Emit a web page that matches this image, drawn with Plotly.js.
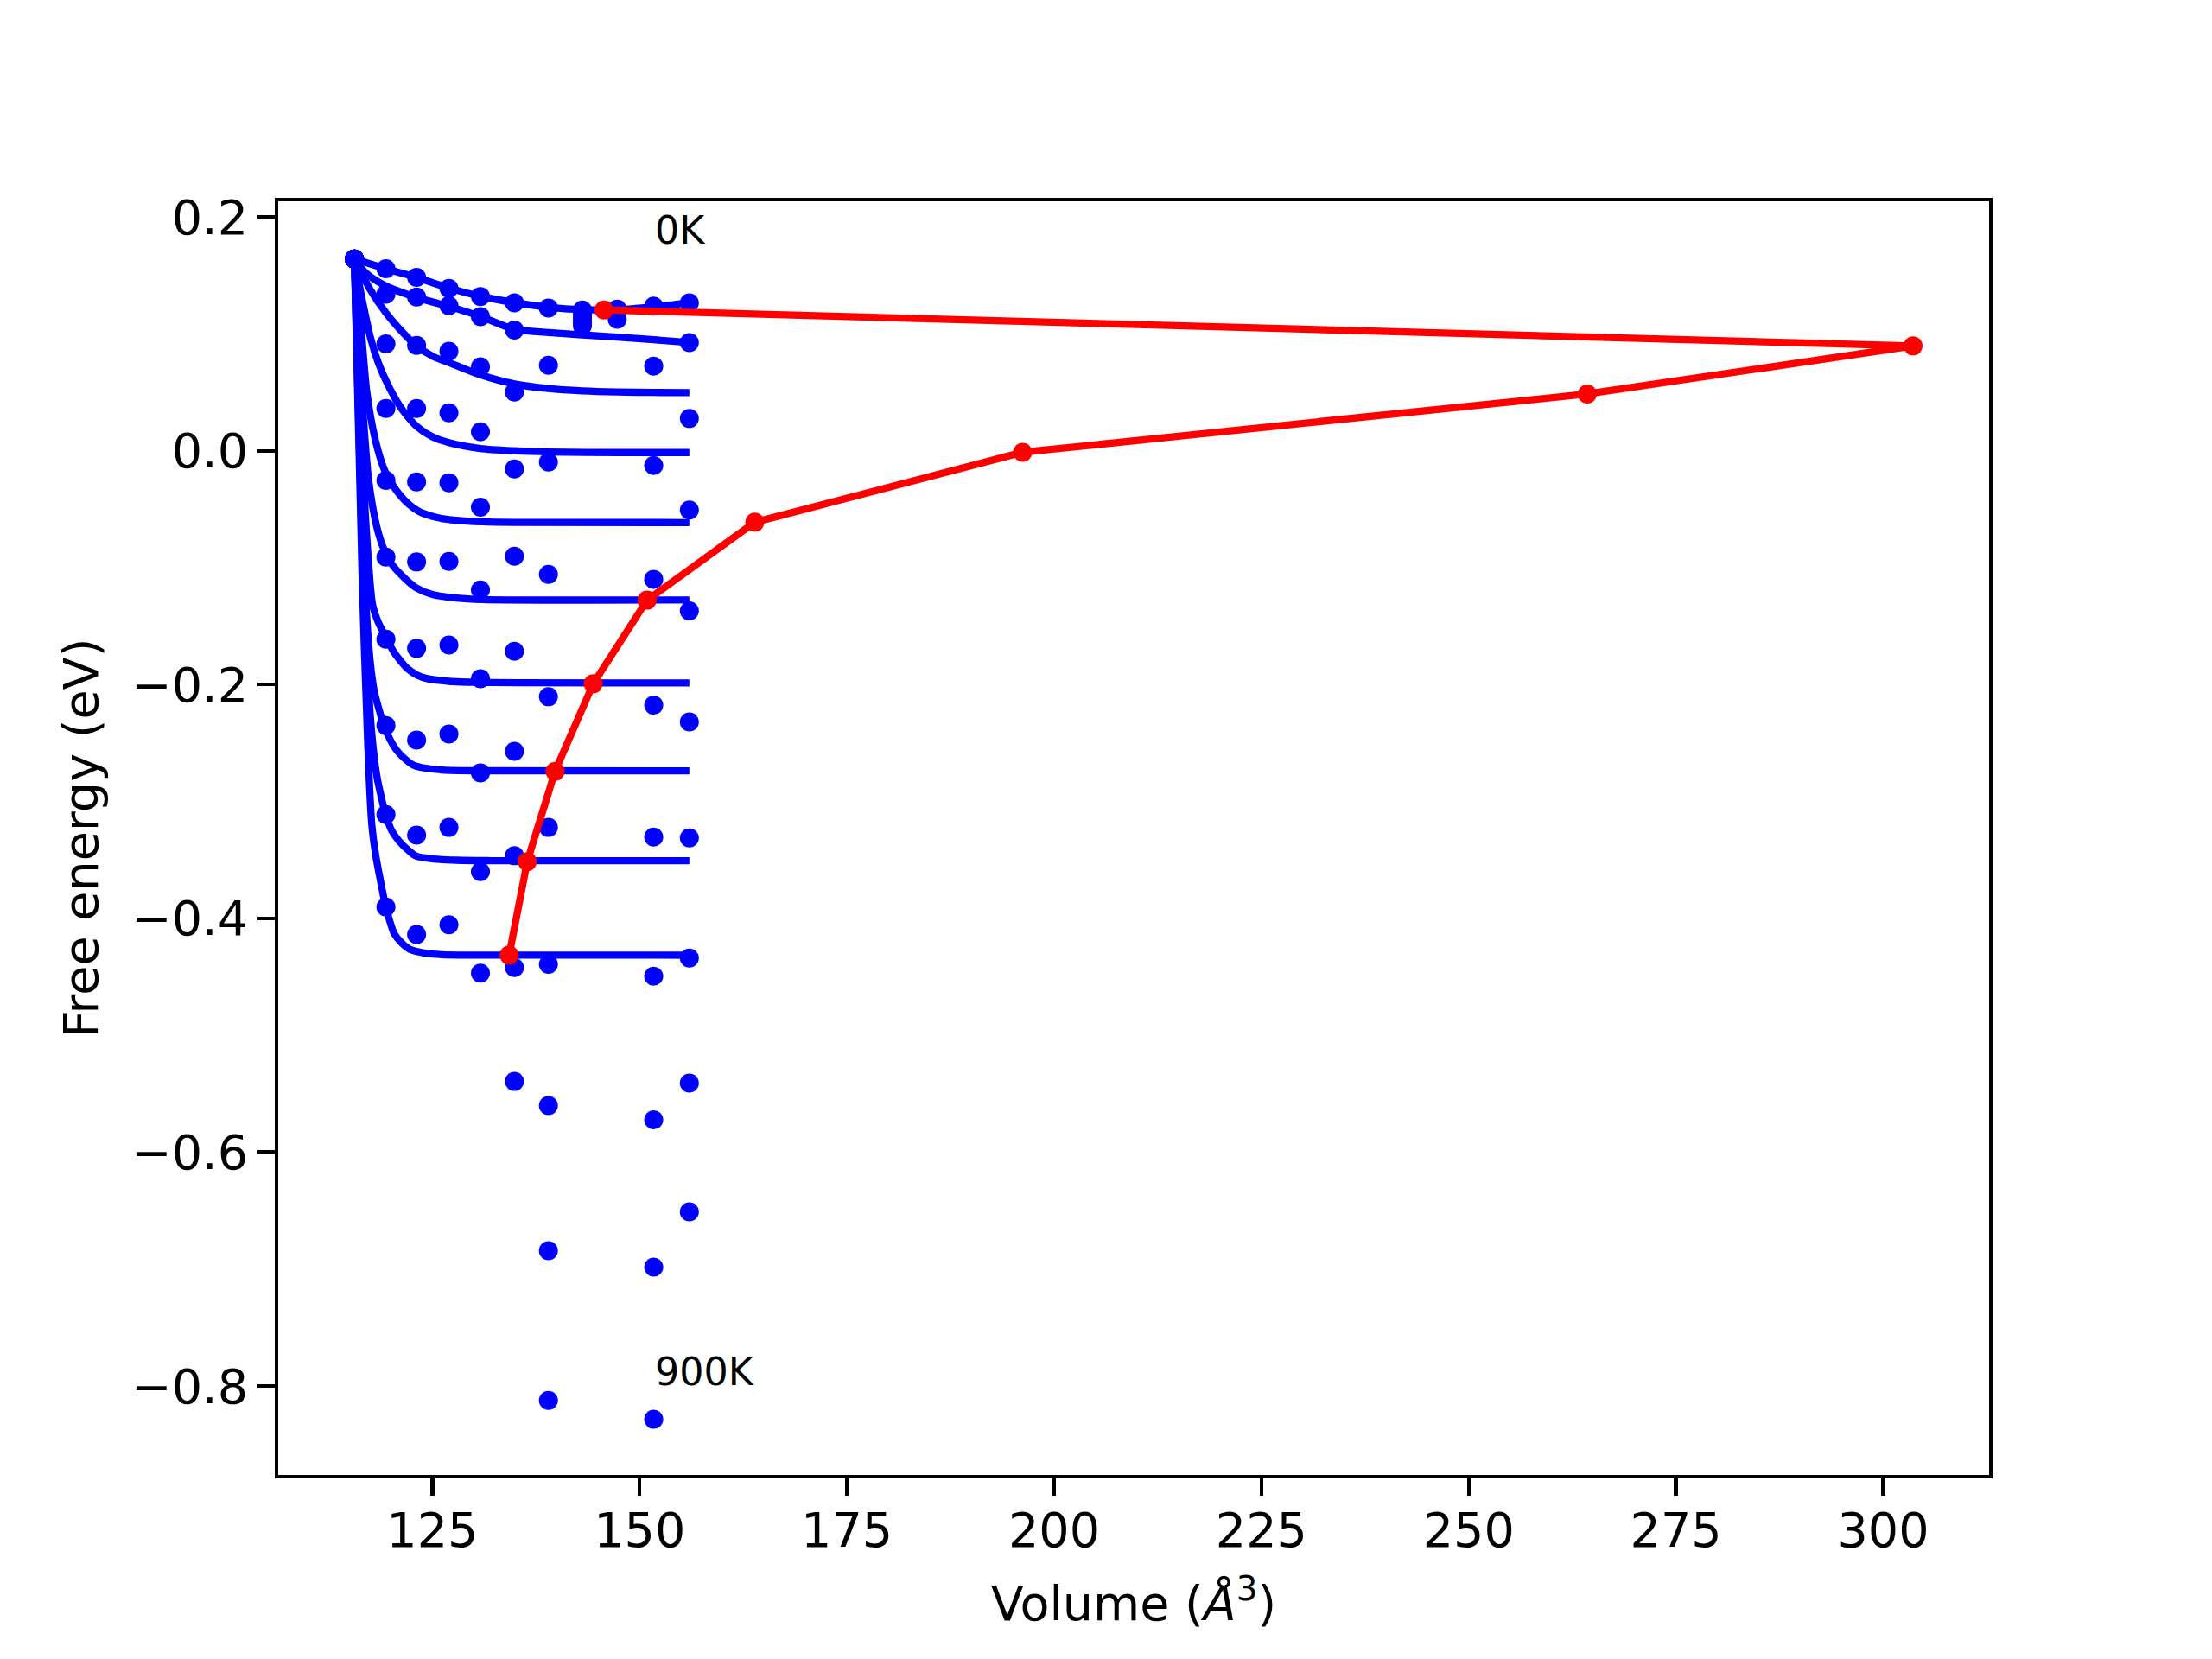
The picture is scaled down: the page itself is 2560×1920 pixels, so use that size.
<!DOCTYPE html>
<html>
<head>
<meta charset="utf-8">
<script src="https://cdn.plot.ly/plotly-3.0.1.min.js"></script>
<style>html,body{margin:0;padding:0;background:#fff;}</style>
</head>
<body>
<div id="chart" style="width:2560px;height:1920px;"></div>
<script>
// ---- data ----
const volumes = [115.6, 119.4, 123.1, 127.0, 130.8, 134.9, 139.0, 143.1, 147.3, 151.7, 156.0];
const temperatures = ['0K','100K','200K','300K','400K','500K','600K','700K','800K','900K'];
const F_0K   = [0.164, 0.1557, 0.1483, 0.1390, 0.1320, 0.1266, 0.1222, 0.1205, 0.1212, 0.1237, 0.1266];
const F_100K = [0.164, 0.1340, 0.1316, 0.1242, 0.1148, 0.1032, 0.0732, null, null, 0.0724, 0.0926];
const F_200K = [0.164, 0.0914, 0.0902, 0.0852, 0.0719, 0.0503, -0.0096, null, null, -0.0126, 0.0276];
const F_300K = [0.164, 0.0362, 0.0362, 0.0325, 0.0163, -0.0155, -0.1057, null, null, -0.1099, -0.0507];
const F_400K = [0.164, -0.0254, -0.0266, -0.0273, -0.0483, -0.0902, -0.2104, null, null, -0.2176, -0.1370];
const F_500K = [0.164, -0.0909, -0.0951, -0.0946, -0.1190, -0.1715, -0.3222, null, null, -0.3304, -0.2320];
const F_600K = [0.164, -0.1611, -0.1690, -0.1661, -0.1949, -0.2570, -0.4393, null, null, -0.4494, -0.3311];
const F_700K = [0.164, -0.2350, -0.2474, -0.2422, -0.2755, -0.3464, -0.5601, null, null, -0.5723, -0.4339];
const F_800K = [0.164, -0.3112, -0.3287, -0.3222, -0.3600, -0.4420, -0.6843, null, null, -0.6984, -0.5409];
const F_900K = [0.164, -0.3903, -0.4137, -0.4055, -0.4469, -0.5395, -0.8124, null, null, -0.8285, -0.6511];
// extra stacked points near the 0K minimum
const extraV = [143.1, 143.1, 143.1, 143.1, 147.3];
const extraF = [0.117, 0.1135, 0.110, 0.107, 0.1125];

// fitted curves
const fitV_0K   = [115.6, 119.4, 123.1, 127.0, 130.8, 134.9, 139.0, 143.1, 147.3, 151.7, 156.0];
const fitF_0K   = [0.164, 0.1557, 0.1483, 0.1392, 0.1322, 0.1268, 0.1228, 0.1208, 0.1207, 0.1232, 0.1266];
const fitV_100K = [115.6, 117.0, 119.4, 123.1, 127.0, 130.8, 134.9, 139.0, 143.1, 147.3, 151.7, 156.0];
const fitF_100K = [0.164, 0.152, 0.141, 0.1312, 0.1235, 0.1150, 0.1040, 0.1012, 0.0992, 0.0972, 0.0950, 0.0926];
const fitV_200K = [115.6, 117.5, 119.4, 121.2, 123.1, 125.0, 127.0, 130.8, 134.9, 139.0, 143.1, 147.3, 151.7, 156.0];
const fitF_200K = [0.164, 0.138, 0.118, 0.103, 0.0897, 0.081, 0.0755, 0.065, 0.0572, 0.0533, 0.0513, 0.0503, 0.0499, 0.0497];
const fitV_300K = [115.6, 116.6, 117.6, 118.5, 119.4, 120.5, 121.5, 123.1, 125.0, 127.0, 130.8, 134.9, 139.0, 147.3, 156.0];
const fitF_300K = [0.164, 0.127, 0.095, 0.075, 0.060, 0.045, 0.034, 0.021, 0.012, 0.007, 0.002, 0.0, -0.001, -0.0015, -0.0015];
const fitV_400K = [115.6, 116.3, 117.1, 118.1, 119.2, 120.2, 121.0, 122.2, 123.4, 125.5, 127.9, 131.0, 135.0, 156.0];
const fitF_400K = [0.164, 0.115, 0.050, 0.010, -0.016, -0.029, -0.037, -0.046, -0.052, -0.057, -0.0595, -0.0608, -0.0613, -0.0614];
const fitV_500K = [115.6, 116.3, 117.3, 118.3, 119.2, 120.1, 121.8, 123.0, 125.0, 127.9, 131.0, 156.0];
const fitF_500K = [0.164, 0.070, -0.024, -0.065, -0.085, -0.097, -0.110, -0.117, -0.123, -0.1259, -0.1272, -0.1276];
const fitV_600K = [115.6, 116.2, 116.8, 117.3, 117.8, 118.5, 119.2, 120.3, 121.2, 122.0, 123.2, 124.4, 127.0, 130.7, 156.0];
const fitF_600K = [0.164, 0.050, -0.040, -0.095, -0.132, -0.147, -0.1567, -0.1715, -0.180, -0.1863, -0.192, -0.1949, -0.1972, -0.1981, -0.1986];
const fitV_700K = [115.6, 116.3, 116.9, 117.5, 118.0, 118.6, 119.2, 119.9, 120.6, 121.6, 122.7, 124.2, 126.2, 130.0, 156.0];
const fitF_700K = [0.164, 0.0, -0.12, -0.18, -0.206, -0.222, -0.2356, -0.247, -0.2553, -0.263, -0.2688, -0.2715, -0.273, -0.2737, -0.2738];
const fitV_800K = [115.6, 116.4, 117.1, 117.8, 118.35, 118.9, 119.4, 120.1, 121.0, 122.0, 123.0, 125.0, 127.9, 132.0, 156.0];
const fitF_800K = [0.164, -0.05, -0.18, -0.25, -0.28, -0.298, -0.312, -0.325, -0.334, -0.341, -0.3465, -0.349, -0.3502, -0.3506, -0.3507];
const fitV_900K = [115.6, 116.5, 117.2, 117.7, 118.17, 118.9, 119.4, 119.9, 120.4, 121.3, 122.3, 124.0, 126.2, 130.0, 156.0];
const fitF_900K = [0.164, -0.10, -0.25, -0.32, -0.346, -0.3735, -0.3908, -0.403, -0.413, -0.421, -0.4265, -0.4295, -0.431, -0.4314, -0.4315];

// minima of the fits (red path)
const minV = [145.7, 303.6, 264.3, 196.2, 163.9, 150.9, 144.4, 139.8, 136.45, 134.26];
const minF = [0.1205, 0.0897, 0.0486, -0.0013, -0.0611, -0.1278, -0.1993, -0.2742, -0.3514, -0.4314];

const xTicks = [125, 150, 175, 200, 225, 250, 275, 300];
const yTicks = [0.2, 0.0, -0.2, -0.4, -0.6, -0.8];

// ---- traces ----
const BLUE = '#0000ff', RED = '#ff0000';
const dotSets = [F_0K, F_100K, F_200K, F_300K, F_400K, F_500K, F_600K, F_700K, F_800K, F_900K];
const fitSets = [
  [fitV_0K, fitF_0K], [fitV_100K, fitF_100K], [fitV_200K, fitF_200K], [fitV_300K, fitF_300K],
  [fitV_400K, fitF_400K], [fitV_500K, fitF_500K], [fitV_600K, fitF_600K], [fitV_700K, fitF_700K],
  [fitV_800K, fitF_800K], [fitV_900K, fitF_900K]
];
const traces = [];
dotSets.forEach((F, i) => {
  traces.push({x: volumes, y: F, type: 'scatter', mode: 'markers', name: temperatures[i],
    marker: {color: BLUE, size: 22}, hoverinfo: 'skip'});
});
traces.push({x: extraV, y: extraF, type: 'scatter', mode: 'markers',
  marker: {color: BLUE, size: 22}, hoverinfo: 'skip'});
fitSets.forEach((p, i) => {
  traces.push({x: p[0], y: p[1], type: 'scatter', mode: 'lines', name: temperatures[i] + ' fit',
    line: {color: BLUE, width: 8.3, shape: 'spline', smoothing: 0.8}, hoverinfo: 'skip'});
});
traces.push({x: minV, y: minF, type: 'scatter', mode: 'lines+markers',
  line: {color: RED, width: 8.3}, marker: {color: RED, size: 22}, hoverinfo: 'skip'});

const axisCommon = {
  ticks: 'outside', ticklen: 19.4, tickwidth: 4.4, tickcolor: '#000',
  showline: true, linewidth: 4.4, linecolor: '#000', mirror: true,
  showgrid: false, zeroline: false, automargin: false,
  tickfont: {family: 'DejaVu Sans', size: 55.6, color: '#000'}
};

const layout = {
  width: 2560, height: 1920,
  margin: {l: 322.2, r: 258.2, t: 232.6, b: 213.4, pad: 0},
  paper_bgcolor: '#fff', plot_bgcolor: '#fff',
  showlegend: false,
  font: {family: 'DejaVu Sans', size: 55.6, color: '#000'},
  xaxis: Object.assign({}, axisCommon, {
    range: [106.41, 312.77], tickmode: 'array', tickvals: xTicks,
    ticktext: xTicks.map(String), ticklabelstandoff: -8,
    title: {text: 'Volume (<i>Å</i><sup>3</sup>)', font: {family: 'DejaVu Sans', size: 55.6, color: '#000'}, standoff: 36}
  }),
  yaxis: Object.assign({}, axisCommon, {
    range: [-0.8761, 0.2134], tickmode: 'array', tickvals: yTicks,
    ticktext: yTicks.map(v => (v < 0 ? '\u2212' : '') + Math.abs(v).toFixed(1)),
    title: {text: 'Free energy (eV)', font: {family: 'DejaVu Sans', size: 55.6, color: '#000'}, standoff: 22}
  }),
  annotations: [
    {x: 151.6, y: 0.1885, xref: 'x', yref: 'y', text: '0K', showarrow: false,
      xanchor: 'left', yanchor: 'middle', font: {family: 'DejaVu Sans', size: 44.4, color: '#000'}},
    {x: 151.6, y: -0.7877, xref: 'x', yref: 'y', text: '900K', showarrow: false,
      xanchor: 'left', yanchor: 'middle', font: {family: 'DejaVu Sans', size: 44.4, color: '#000'}}
  ]
};

Plotly.newPlot('chart', traces, layout, {displayModeBar: false, staticPlot: true});
</script>
</body>
</html>
